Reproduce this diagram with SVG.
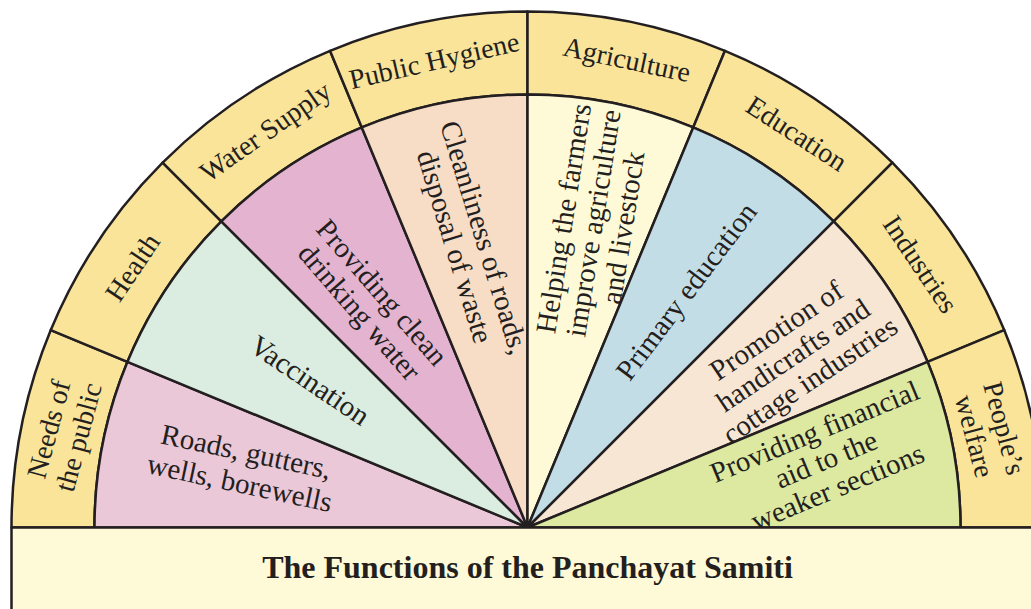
<svg xmlns="http://www.w3.org/2000/svg" width="1031" height="609" viewBox="0 0 1031 609">
<style>
.ln{stroke:#231f20;stroke-width:2.5;stroke-linejoin:round}
.band{fill:#f9e49a}
.t{font-family:"Liberation Serif","Times New Roman",serif;fill:#231f20;text-anchor:middle}
.o{font-size:28px}
.i{font-size:29px}
.title{font-family:"Liberation Serif","Times New Roman",serif;font-weight:bold;font-size:32px;fill:#231f20;text-anchor:middle}
</style>
<rect width="1031" height="609" fill="#ffffff"/>
<g id="bands">
<g id="needs"><path class="ln band" d="M11.5,527.5 A516,516 0 0 1 50.78,330.04 L127.46,361.8 A433,433 0 0 0 94.5,527.5 Z"/>
<text class="t o" transform="translate(63,433) rotate(-75)"><tspan x="0" y="-5.5">Needs of</tspan><tspan x="0" y="25.5">the public</tspan></text></g>
<g id="health"><path class="ln band" d="M50.78,330.04 A516,516 0 0 1 162.63,162.63 L221.32,221.32 A433,433 0 0 0 127.46,361.8 Z"/>
<text class="t o" transform="translate(132,267) rotate(-56)" y="10">Health</text></g>
<g id="water"><path class="ln band" d="M162.63,162.63 A516,516 0 0 1 330.04,50.78 L361.8,127.46 A433,433 0 0 0 221.32,221.32 Z"/>
<text class="t o" transform="translate(265,131) rotate(-35)" y="10">Water Supply</text></g>
<g id="hygiene"><path class="ln band" d="M330.04,50.78 A516,516 0 0 1 527.5,11.5 L527.5,94.5 A433,433 0 0 0 361.8,127.46 Z"/>
<text class="t o" transform="translate(434,60) rotate(-13)" y="10">Public Hygiene</text></g>
<g id="agriculture"><path class="ln band" d="M527.5,11.5 A516,516 0 0 1 724.96,50.78 L693.2,127.46 A433,433 0 0 0 527.5,94.5 Z"/>
<text class="t o" transform="translate(627,59) rotate(12)" y="10">Agriculture</text></g>
<g id="education"><path class="ln band" d="M724.96,50.78 A516,516 0 0 1 892.37,162.63 L833.68,221.32 A433,433 0 0 0 693.2,127.46 Z"/>
<text class="t o" transform="translate(797,133) rotate(33)" y="10">Education</text></g>
<g id="industries"><path class="ln band" d="M892.37,162.63 A516,516 0 0 1 1004.22,330.04 L927.54,361.8 A433,433 0 0 0 833.68,221.32 Z"/>
<text class="t o" transform="translate(921,264) rotate(56)" y="10">Industries</text></g>
<g id="welfare"><path class="ln band" d="M1004.22,330.04 A516,516 0 0 1 1043.5,527.5 L960.5,527.5 A433,433 0 0 0 927.54,361.8 Z"/>
<text class="t o" transform="translate(990,432) rotate(75)"><tspan x="0" y="-5.5">People’s</tspan><tspan x="0" y="25.5">welfare</tspan></text></g>
</g>
<g id="wedges">
<g id="roads"><path class="ln" fill="#ebc8d8" d="M527.5,527.5 L94.5,527.5 A433,433 0 0 1 127.46,361.8 Z"/>
<text class="t i" transform="translate(243,467) rotate(12)"><tspan x="0" y="-6">Roads, gutters,</tspan><tspan x="0" y="26">wells, borewells</tspan></text></g>
<g id="vaccination"><path class="ln" fill="#dbece0" d="M527.5,527.5 L127.46,361.8 A433,433 0 0 1 221.32,221.32 Z"/>
<text class="t i" transform="translate(310,380) rotate(34)" y="10">Vaccination</text></g>
<g id="drinking"><path class="ln" fill="#e3b3cf" d="M527.5,527.5 L221.32,221.32 A433,433 0 0 1 361.8,127.46 Z"/>
<text class="t i" transform="translate(371,302) rotate(49)"><tspan x="0" y="-5">Providing clean</tspan><tspan x="0" y="25">drinking water</tspan></text></g>
<g id="cleanliness"><path class="ln" fill="#f7dcc6" d="M527.5,527.5 L361.8,127.46 A433,433 0 0 1 527.5,94.5 Z"/>
<text class="t i" transform="translate(470,242) rotate(73)"><tspan x="0" y="-5.5">Cleanliness of roads,</tspan><tspan x="0" y="25.5">disposal of waste</tspan></text></g>
<g id="farmers"><path class="ln" fill="#fefad8" d="M527.5,527.5 L527.5,94.5 A433,433 0 0 1 693.2,127.46 Z"/>
<text class="t i" transform="translate(593,223) rotate(-81)"><tspan x="0" y="-20">Helping the farmers</tspan><tspan x="0" y="10">improve agriculture</tspan><tspan x="0" y="40">and livestock</tspan></text></g>
<g id="primary"><path class="ln" fill="#c3dde6" d="M527.5,527.5 L693.2,127.46 A433,433 0 0 1 833.68,221.32 Z"/>
<text class="t i" transform="translate(686,291) rotate(-53)" y="10">Primary education</text></g>
<g id="promotion"><path class="ln" fill="#f8e6d5" d="M527.5,527.5 L833.68,221.32 A433,433 0 0 1 927.54,361.8 Z"/>
<text class="t i" transform="translate(793,355) rotate(-34)"><tspan x="0" y="-20">Promotion of</tspan><tspan x="0" y="10">handicrafts and</tspan><tspan x="0" y="40">cottage industries</tspan></text></g>
<g id="financial"><path class="ln" fill="#dde9a1" d="M527.5,527.5 L927.54,361.8 A433,433 0 0 1 960.5,527.5 Z"/>
<text class="t i" transform="translate(826,459) rotate(-22.5)"><tspan x="0" y="-20">Providing financial</tspan><tspan x="0" y="10">aid to the</tspan><tspan x="0" y="40">weaker sections</tspan></text></g>
</g>
<g id="title-bar">
<rect class="ln" fill="#fef9d6" x="11.5" y="527.5" width="1040" height="100"/>
<text class="title" x="527.5" y="578">The Functions of the Panchayat Samiti</text>
</g>
</svg>
